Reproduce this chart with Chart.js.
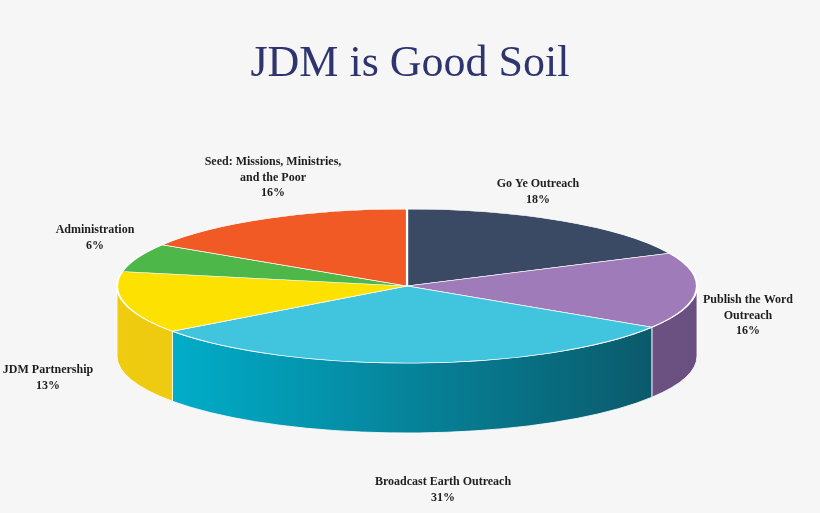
<!DOCTYPE html>
<html><head><meta charset="utf-8">
<script src="https://cdn.jsdelivr.net/npm/chart.js@4/dist/chart.umd.min.js"></script>
<style>html,body{margin:0;padding:0;background:#f6f6f6;}#wrap{width:820px;height:513px;position:relative;}</style>
</head><body><div id="wrap"><canvas id="c"></canvas></div>
<script>
const categories = ["Go Ye Outreach","Publish the Word Outreach","Broadcast Earth Outreach","JDM Partnership","Administration","Seed: Missions, Ministries, and the Poor"];
const values = [18,16,31,13,6,16];
const labelLines = [["Go Ye Outreach","18%"],["Publish the Word","Outreach","16%"],["Broadcast Earth Outreach","31%"],["JDM Partnership","13%"],["Administration","6%"],["Seed: Missions, Ministries,","and the Poor","16%"]];

const topColors = ["#3a4a64","#a07bb9","#41c4de","#fde100","#4db749","#f15a24"];
const sideLeft = ["#2c3a50","#7a5a90","#00b6d4","#f0cc10","#3a9a38","#c8461a"];
const sideRight = ["#22303f","#6a5080","#0c5262","#d8b812","#2f7d2e","#a83a14"];
const labelAnchors = [[538,184],[748,300],[443,482],[48,370],[95,230],[273,162]];

const CX=407, CY=286, RX=290, RY=77, DEPTH=70;

const pie3d = {
  id:'pie3d',
  beforeDatasetsDraw(chart){
    const ctx=chart.ctx, meta=chart.getDatasetMeta(0);
    meta.data.forEach((arc,i)=>{
      let a0=arc.startAngle, a1=arc.endAngle;
      const TAU=Math.PI*2;
      let s=((a0%TAU)+TAU)%TAU, e=s+(a1-a0);
      const segs=[];
      for(const off of [0,TAU]){
        const lo=Math.max(s,0+off), hi=Math.min(e,Math.PI+off);
        if(hi>lo) segs.push([lo,hi]);
      }
      segs.forEach(([lo,hi])=>{
        const g=ctx.createLinearGradient(CX-RX,0,CX+RX,0);
        g.addColorStop(0,sideLeft[i]); g.addColorStop(1,sideRight[i]);
        ctx.beginPath();
        ctx.ellipse(CX,CY,RX,RY,0,lo,hi,false);
        ctx.lineTo(CX+RX*Math.cos(hi),CY+RY*Math.sin(hi)+DEPTH);
        ctx.ellipse(CX,CY+DEPTH,RX,RY,0,hi,lo,true);
        ctx.closePath();
        ctx.fillStyle=g; ctx.fill();
        ctx.strokeStyle='rgba(255,255,255,0.8)'; ctx.lineWidth=1; ctx.stroke();
      });
    });
    const a=meta.data[0];
    ctx.save();
    ctx.translate(CX,CY);
    ctx.scale(RX/a.outerRadius,RY/a.outerRadius);
    ctx.translate(-a.x,-a.y);
  },
  afterDatasetsDraw(chart){
    const ctx=chart.ctx;
    ctx.restore();
    ctx.save();
    ctx.fillStyle='#1e1e1e';
    ctx.font='bold 12px "Liberation Serif", "DejaVu Serif", serif';
    ctx.textAlign='center'; ctx.textBaseline='middle';
    labelLines.forEach((lines,i)=>{
      const [x,y]=labelAnchors[i];
      lines.forEach((t,k)=>ctx.fillText(t,x,y+k*15.5));
    });
    ctx.restore();
  }
};

new Chart(document.getElementById('c'),{
  type:'pie',
  data:{labels:categories,datasets:[{data:values,backgroundColor:topColors,borderColor:'#ffffff',borderWidth:1.5}]},
  options:{responsive:true,maintainAspectRatio:false,animation:false,
    layout:{padding:{top:10,bottom:10}},
    plugins:{legend:{display:false},tooltip:{enabled:false},
      title:{display:true,text:'JDM is Good Soil',color:'#2e346e',
        font:{family:'"Liberation Serif", "DejaVu Serif", serif',size:44,weight:'normal'},padding:{top:28,bottom:20}}}},
  plugins:[pie3d]
});
</script></body></html>
